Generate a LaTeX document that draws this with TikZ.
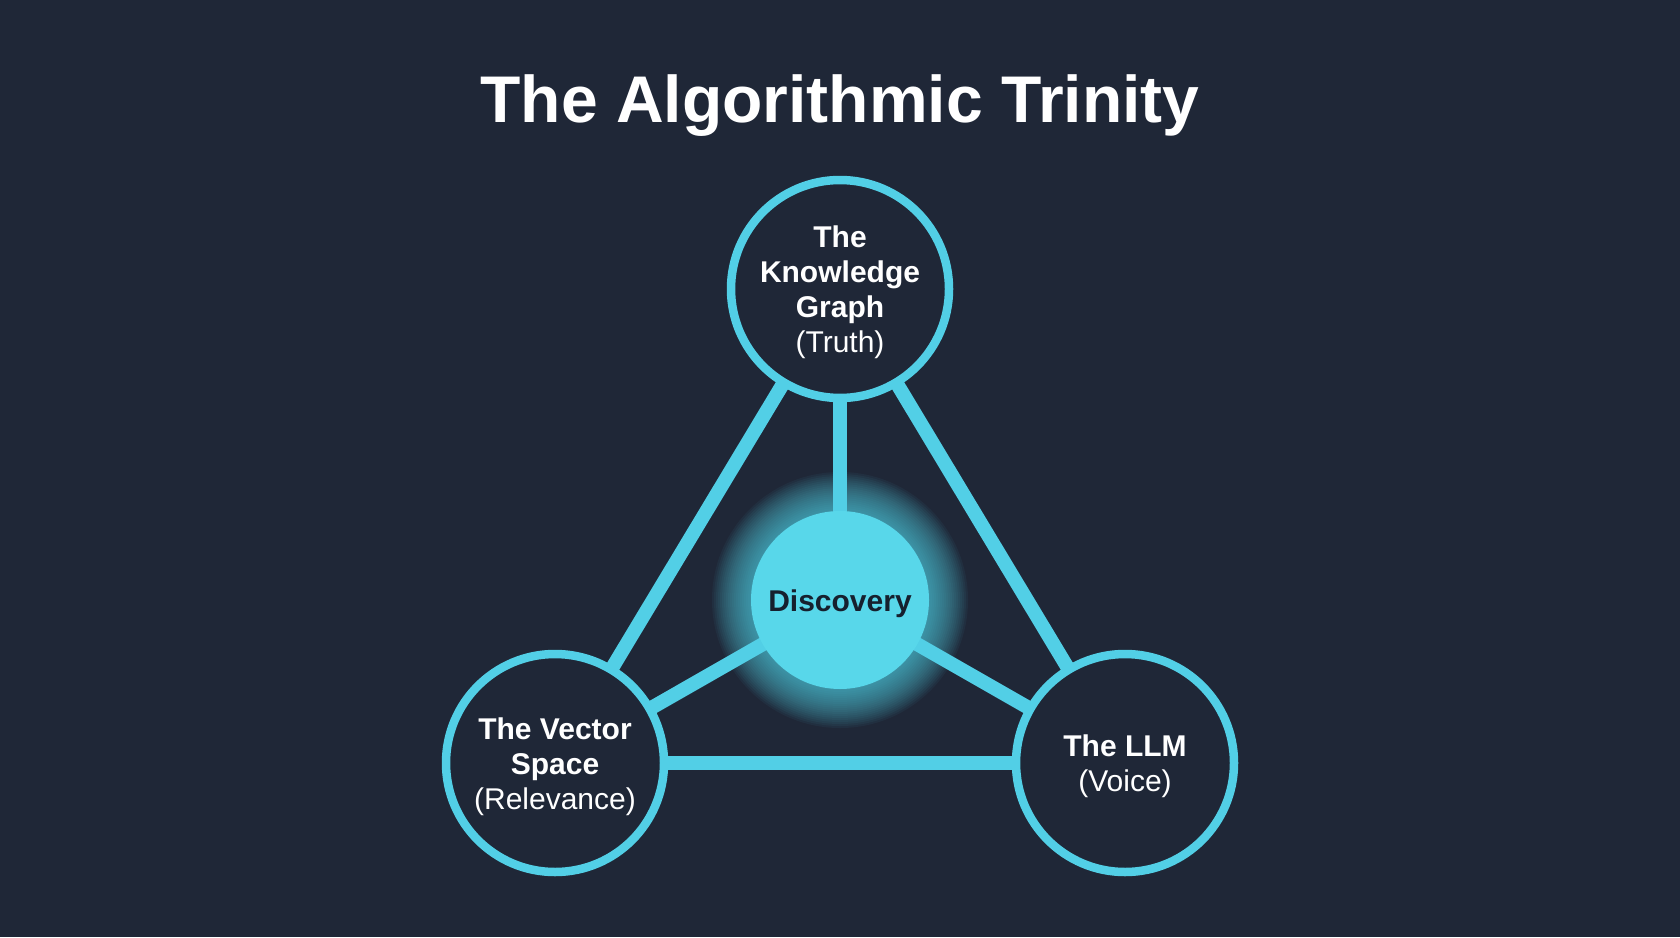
\documentclass[tikz,border=0pt]{standalone}
\usepackage{fontspec}
\setmainfont{Liberation Sans}
\usetikzlibrary{backgrounds}
\definecolor{bg}{HTML}{1F2737}
\definecolor{ring}{HTML}{52CFE6}
\definecolor{disc}{HTML}{58D7EA}
\definecolor{darktext}{HTML}{16202E}
\newcommand{\lift}{\rule{0pt}{29pt}}
\tikzset{
  pillar/.style={circle, draw=ring, line width=8.5pt, fill=bg, minimum size=218pt, inner sep=0pt,
    text=white, align=center, font=\fontsize{30}{35}\selectfont},
  core/.style={circle, fill=disc, minimum size=178pt, inner sep=0pt, text=darktext,
    font=\fontsize{30}{35}\selectfont\bfseries},
  halo/.style={fill=disc, opacity=0.05},
  conn/.style={draw=ring, line width=14pt},
  titlestyle/.style={text=white, font=\fontsize{66}{70}\selectfont\bfseries, anchor=base, inner sep=0pt}
}
\begin{document}
\begin{tikzpicture}[x=1pt,y=-1pt]
\useasboundingbox (0,0) rectangle (1680,937);
\node[titlestyle] (title) at (840,122) {The Algorithmic Trinity};
\node[pillar] (top) at (840,289) {\lift\textbf{The}\\\textbf{Knowledge}\\\textbf{Graph}\\(Truth)};
\node[pillar] (left) at (555,763) {\lift\textbf{The Vector}\\\textbf{Space}\\(Relevance)};
\node[pillar] (right) at (1125,763) {\lift\textbf{The LLM}\\(Voice)};
\node[core] (disc) at (840,600) {\lift Discovery};
\begin{pgfonlayer}{background}
  \fill[bg] (0,0) rectangle (1680,937);
  \foreach \r in {90,92,...,128} {\fill[halo] (disc.center) circle[radius=\r];}
  \draw[conn] (top.center) -- (left.center);
  \draw[conn] (top.center) -- (right.center);
  \draw[conn] (left.center) -- (right.center);
  \draw[conn] (top.center) -- (disc.center);
  \draw[conn] (left.center) -- (disc.center);
  \draw[conn] (right.center) -- (disc.center);
\end{pgfonlayer}
\end{tikzpicture}
\end{document}
